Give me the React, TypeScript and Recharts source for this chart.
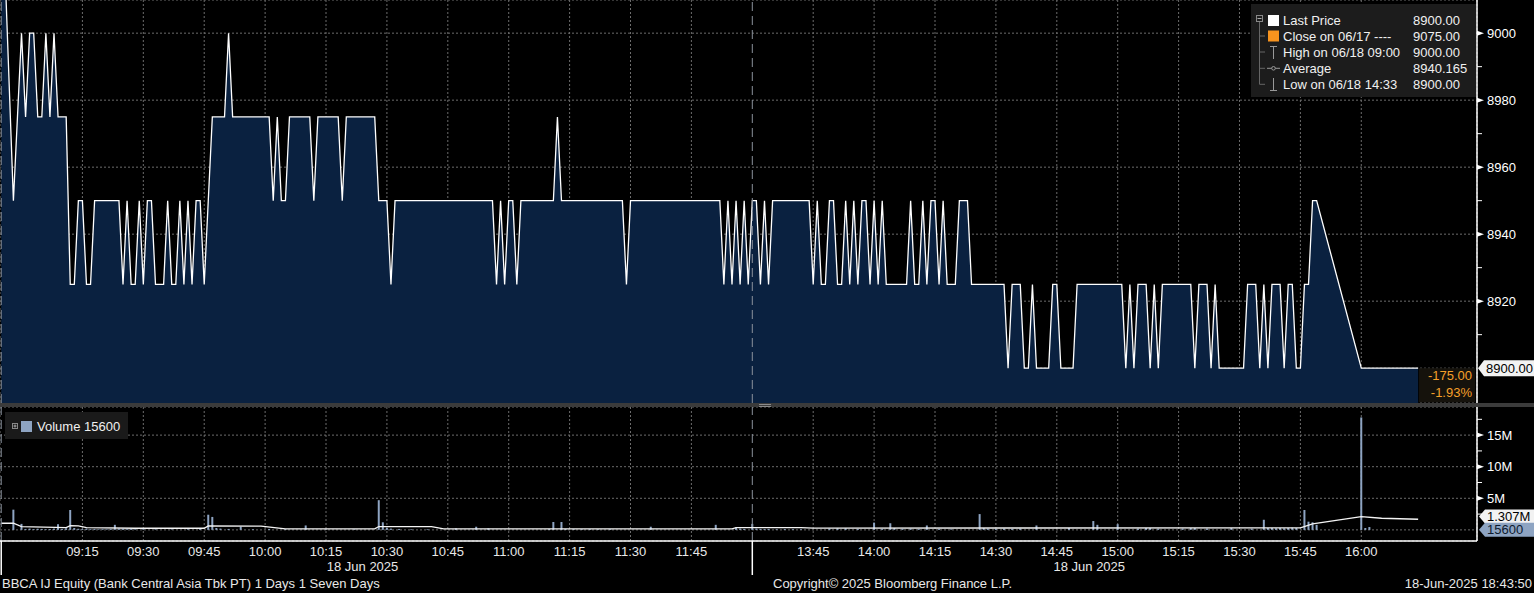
import React from "react";
import {
  ComposedChart,
  Area,
  Bar,
  Line,
  XAxis,
  YAxis,
  CartesianGrid,
  ReferenceLine,
  Legend,
} from "recharts";

// ---------------- data ----------------
// price changes (1-minute closes), [clock time, price]
const morningPrices: [string, number][] = [
  ["08:55", 9050], ["08:58", 8950], ["09:00", 9000], ["09:01", 8975], ["09:02", 9000],
  ["09:03", 9000], ["09:04", 8975], ["09:05", 8975], ["09:06", 9000], ["09:07", 8975],
  ["09:08", 9000], ["09:09", 8975], ["09:11", 8975], ["09:12", 8925], ["09:13", 8925],
  ["09:14", 8950], ["09:15", 8950], ["09:16", 8925], ["09:17", 8925], ["09:18", 8950],
  ["09:24", 8950], ["09:25", 8925], ["09:26", 8950], ["09:27", 8925], ["09:28", 8925],
  ["09:29", 8950], ["09:30", 8925], ["09:31", 8950], ["09:32", 8950], ["09:33", 8925],
  ["09:35", 8925], ["09:36", 8950], ["09:37", 8925], ["09:38", 8925], ["09:39", 8950],
  ["09:40", 8925], ["09:41", 8950], ["09:42", 8925], ["09:43", 8950], ["09:44", 8950],
  ["09:45", 8925], ["09:47", 8975], ["09:50", 8975], ["09:51", 9000], ["09:52", 8975],
  ["10:01", 8975], ["10:02", 8950], ["10:03", 8975], ["10:04", 8950], ["10:05", 8950],
  ["10:06", 8975], ["10:11", 8975], ["10:12", 8950], ["10:13", 8975], ["10:18", 8975],
  ["10:19", 8950], ["10:20", 8975], ["10:27", 8975], ["10:28", 8950], ["10:30", 8950],
  ["10:31", 8925], ["10:32", 8950], ["10:56", 8950], ["10:57", 8925], ["10:58", 8950],
  ["10:59", 8925], ["11:00", 8950], ["11:01", 8950], ["11:02", 8925], ["11:03", 8950],
  ["11:11", 8950], ["11:12", 8975], ["11:13", 8950], ["11:28", 8950], ["11:29", 8925],
  ["11:30", 8950], ["11:52", 8950], ["11:53", 8925], ["11:54", 8950], ["11:55", 8925],
  ["11:56", 8950], ["11:57", 8925], ["11:58", 8950], ["11:59", 8925],
];

const afternoonPrices: [string, number][] = [
  ["13:30", 8950], ["13:31", 8950], ["13:32", 8925], ["13:33", 8950], ["13:34", 8925],
  ["13:35", 8950], ["13:44", 8950], ["13:45", 8925], ["13:46", 8950], ["13:47", 8925],
  ["13:48", 8925], ["13:49", 8950], ["13:50", 8950], ["13:51", 8925], ["13:52", 8925],
  ["13:53", 8950], ["13:54", 8925], ["13:55", 8950], ["13:56", 8925], ["13:57", 8950],
  ["13:58", 8950], ["13:59", 8925], ["14:00", 8950], ["14:01", 8925], ["14:02", 8950],
  ["14:03", 8925], ["14:08", 8925], ["14:09", 8950], ["14:10", 8925], ["14:11", 8925],
  ["14:12", 8950], ["14:13", 8925], ["14:14", 8950], ["14:15", 8950], ["14:16", 8925],
  ["14:17", 8950], ["14:18", 8925], ["14:20", 8925], ["14:21", 8950], ["14:23", 8950],
  ["14:24", 8925], ["14:32", 8925], ["14:33", 8900], ["14:34", 8925], ["14:36", 8925],
  ["14:37", 8900], ["14:38", 8900], ["14:39", 8925], ["14:40", 8900], ["14:43", 8900],
  ["14:44", 8925], ["14:45", 8925], ["14:46", 8900], ["14:49", 8900], ["14:50", 8925],
  ["15:01", 8925], ["15:02", 8900], ["15:03", 8925], ["15:04", 8900], ["15:05", 8925],
  ["15:07", 8925], ["15:08", 8900], ["15:09", 8925], ["15:10", 8900], ["15:11", 8925],
  ["15:18", 8925], ["15:19", 8900], ["15:20", 8925], ["15:22", 8925], ["15:23", 8900],
  ["15:24", 8925], ["15:25", 8900], ["15:31", 8900], ["15:32", 8925], ["15:34", 8925],
  ["15:35", 8900], ["15:36", 8925], ["15:37", 8900], ["15:38", 8925], ["15:40", 8925],
  ["15:41", 8900], ["15:42", 8925], ["15:43", 8925], ["15:44", 8900], ["15:45", 8900],
  ["15:46", 8925], ["15:47", 8925], ["15:48", 8950], ["15:49", 8950], ["16:00", 8900],
  ["16:14", 8900],
];

// volume per minute, [clock time, shares]
const morningVolume: [string, number][] = [
  ["08:58", 3200000], ["09:00", 950000], ["09:01", 150000], ["09:02", 200000], ["09:03", 120000],
  ["09:04", 180000], ["09:05", 150000], ["09:06", 100000], ["09:07", 120000], ["09:08", 200000],
  ["09:09", 900000], ["09:10", 150000], ["09:11", 250000], ["09:12", 3150000], ["09:13", 300000],
  ["09:14", 180000], ["09:15", 150000], ["09:16", 200000], ["09:17", 120000], ["09:18", 150000],
  ["09:19", 100000], ["09:20", 120000], ["09:21", 100000], ["09:22", 150000], ["09:23", 800000],
  ["09:24", 200000], ["09:25", 150000], ["09:26", 100000], ["09:27", 150000], ["09:28", 100000],
  ["09:30", 120000], ["09:33", 100000], ["09:37", 80000], ["09:41", 100000], ["09:44", 150000],
  ["09:46", 2400000], ["09:47", 2050000], ["09:48", 300000], ["09:49", 200000], ["09:51", 150000],
  ["09:54", 500000], ["09:57", 100000], ["10:01", 150000], ["10:05", 100000], ["10:10", 700000],
  ["10:15", 80000], ["10:22", 100000], ["10:28", 4700000], ["10:29", 1200000], ["10:30", 300000],
  ["10:31", 200000], ["10:33", 150000], ["10:36", 100000], ["10:40", 100000], ["10:47", 250000],
  ["10:52", 500000], ["10:55", 250000], ["11:10", 150000], ["11:11", 1250000], ["11:13", 1250000],
  ["11:14", 150000], ["11:16", 120000], ["11:18", 100000], ["11:20", 120000], ["11:22", 100000],
  ["11:25", 120000], ["11:35", 500000], ["11:51", 800000], ["11:56", 400000], ["11:57", 200000],
  ["11:58", 150000],
];

const afternoonVolume: [string, number][] = [
  ["13:30", 950000], ["13:31", 200000], ["13:32", 150000], ["13:33", 120000], ["13:34", 150000],
  ["13:36", 100000], ["13:38", 120000], ["13:40", 100000], ["13:42", 100000], ["13:49", 200000],
  ["13:51", 250000], ["13:53", 250000], ["13:56", 150000], ["14:00", 1150000], ["14:02", 150000],
  ["14:04", 1050000], ["14:05", 300000], ["14:07", 150000], ["14:09", 200000], ["14:11", 150000],
  ["14:13", 700000], ["14:16", 150000], ["14:19", 100000], ["14:26", 2500000], ["14:27", 300000],
  ["14:28", 200000], ["14:30", 150000], ["14:32", 200000], ["14:34", 150000], ["14:36", 200000],
  ["14:40", 700000], ["14:48", 300000], ["14:54", 1400000], ["14:55", 800000], ["15:00", 900000],
  ["15:05", 200000], ["15:07", 300000], ["15:08", 300000], ["15:10", 200000], ["15:16", 200000],
  ["15:18", 300000], ["15:19", 300000], ["15:22", 200000], ["15:28", 300000], ["15:33", 200000],
  ["15:36", 1600000], ["15:37", 300000], ["15:38", 300000], ["15:39", 250000], ["15:40", 300000],
  ["15:41", 250000], ["15:42", 300000], ["15:43", 350000], ["15:44", 300000], ["15:46", 3150000],
  ["15:47", 1300000], ["15:48", 1200000], ["15:49", 800000], ["16:00", 17800000], ["16:01", 300000],
  ["16:02", 450000], ["16:14", 15600],
];

// volume moving average, [clock time, shares]
const volumeAverage: [string, number][] = [
  ["08:55", 1050000], ["08:58", 1050000], ["09:00", 500000], ["09:11", 370000], ["09:12", 680000],
  ["09:14", 630000], ["09:16", 370000], ["09:28", 260000], ["09:45", 260000], ["09:46", 630000],
  ["09:59", 580000], ["10:05", 160000], ["10:27", 160000], ["10:28", 530000], ["10:41", 530000],
  ["10:44", 160000], ["11:55", 160000], ["11:56", 370000], ["13:42", 370000], ["13:45", 280000],
  ["15:45", 320000], ["15:48", 950000], ["16:00", 2100000], ["16:05", 1840000], ["16:14", 1680000],
];

const timeTickLabels = [
  "09:15", "09:30", "09:45", "10:00", "10:15", "10:30", "10:45", "11:00", "11:15", "11:30", "11:45",
  "13:45", "14:00", "14:15", "14:30", "14:45", "15:00", "15:15", "15:30", "15:45", "16:00",
];
const sessionOpenTimes = ["08:55", "13:30"];
const dateLabelTimes = ["10:24", "14:53"];
const dateLabelText = "18 Jun 2025";
const dateShort = "06/18";
const prevCloseDate = "06/17";

const priceGridValues = [8900, 8920, 8940, 8960, 8980, 9000];
const priceTickValues = [8900, 8910, 8920, 8930, 8940, 8950, 8960, 8970, 8980, 8990, 9000];
const volumeGridValues = [0, 5000000, 10000000, 15000000];
const volumeTickValues = [2500000, 5000000, 7500000, 10000000, 12500000, 15000000, 17500000];

const previousClose = 9075;
const averagePrice = 8940.165;
const lastVolumeAverage = 1307000;

const securityText = "BBCA IJ Equity (Bank Central Asia Tbk PT) 1 Days 1 Seven Days";
const copyrightText = "Copyright\u00A9 2025 Bloomberg Finance L.P.";
const stampText = "18-Jun-2025 18:43:50";

// ---------------- helpers ----------------
const toTradingMinute = (hhmm: string) => {
  const [h, m] = hhmm.split(":").map(Number);
  const clock = h * 60 + m;
  return clock <= 12 * 60 ? clock - 9 * 60 : clock - (13 * 60 + 30) + 180;
};

const X_DOMAIN: [number, number] = [-5.3, 358.5];
const PRICE_DOMAIN: [number, number] = [8889.6, 9009.9];
const VOLUME_DOMAIN: [number, number] = [-1760000, 19450000];

const priceData = [...morningPrices, ...afternoonPrices].map(([t, p]) => ({
  t: toTradingMinute(t),
  clock: t,
  price: p,
}));
const volumeData = [...morningVolume, ...afternoonVolume].map(([t, v]) => ({
  t: toTradingMinute(t),
  volume: v,
}));
const avgData = volumeAverage.map(([t, v]) => ({ t: toTradingMinute(t), avg: v }));

const timeTicks = timeTickLabels.map(toTradingMinute);
const sessionTicks = sessionOpenTimes.map(toTradingMinute);
const dateTicks = dateLabelTimes.map(toTradingMinute);
const labelByMinute: Record<number, string> = {};
timeTickLabels.forEach((l) => (labelByMinute[toTradingMinute(l)] = l));

const lastPrice = priceData[priceData.length - 1].price;
const sessionPrices = priceData.filter((d) => d.t >= 0);
const highPoint = sessionPrices.reduce((a, b) => (b.price > a.price ? b : a));
const lowPoint = sessionPrices.reduce((a, b) => (b.price < a.price ? b : a));
const change = lastPrice - previousClose;
const changePct = (change / previousClose) * 100;
const lastVolume = volumeData[volumeData.length - 1].volume;

const FONT = '"Liberation Sans", Arial, Helvetica, sans-serif';
const NAVY = "#0a2140";
const GRID = "#6c6c6c";
const ORANGE = "#f5a02a";
const VOL_BLUE = "#8ea4c2";
const SESSION = "#8a919c";

// ---------------- custom pieces ----------------
const PriceAxisTick = (props: any) => {
  const { x, y, payload } = props;
  const v = payload.value;
  if (v === lastPrice) return <g />;
  if (priceGridValues.includes(v)) {
    return (
      <g>
        <polygon points={`${x},${y - 2.5} ${x + 7},${y} ${x},${y + 2.5}`} fill="#fff" />
        <text x={x + 10} y={y + 4.5} fill="#fff" fontSize={13} fontFamily={FONT}>
          {v}
        </text>
      </g>
    );
  }
  return <line x1={x} x2={x + 5} y1={y} y2={y} stroke="#fff" strokeWidth={1} />;
};

const VolumeAxisTick = (props: any) => {
  const { x, y, payload } = props;
  const v = payload.value;
  if (volumeGridValues.includes(v)) {
    return (
      <g>
        <polygon points={`${x},${y - 2.5} ${x + 7},${y} ${x},${y + 2.5}`} fill="#fff" />
        <text x={x + 10} y={y + 4.5} fill="#fff" fontSize={13} fontFamily={FONT}>
          {v / 1000000}M
        </text>
      </g>
    );
  }
  return <line x1={x} x2={x + 5} y1={y} y2={y} stroke="#fff" strokeWidth={1} />;
};

const TimeTick = (props: any) => {
  const { x, y, payload } = props;
  const v = payload.value;
  if (sessionTicks.includes(v)) {
    return <line x1={x} x2={x} y1={y} y2={y + 34} stroke="#fff" strokeWidth={1.5} />;
  }
  return (
    <text x={x} y={y + 15} textAnchor="middle" fill="#e8e8e8" fontSize={13} fontFamily={FONT}>
      {labelByMinute[v]}
    </text>
  );
};

const DateTick = (props: any) => {
  const { x, y } = props;
  return (
    <text x={x} y={y + 10} textAnchor="middle" fill="#e8e8e8" fontSize={13} fontFamily={FONT}>
      {dateLabelText}
    </text>
  );
};

const LastPriceTag = (props: any) => {
  const vb = props.viewBox || {};
  const right = vb.x + vb.width;
  const y = vb.y;
  return (
    <g>
      <rect x={right - 58} y={y} width={56} height={34} fill="#15120c" />
      <text x={right - 5} y={y + 11.5} textAnchor="end" fill={ORANGE} fontSize={13} fontFamily={FONT}>
        {change.toFixed(2)}
      </text>
      <text x={right - 5} y={y + 29} textAnchor="end" fill={ORANGE} fontSize={13} fontFamily={FONT}>
        {changePct.toFixed(2)}%
      </text>
      <path
        d={`M${right + 1},${y} L${right + 7},${y - 8} L${right + 57},${y - 8} L${right + 57},${y + 8} L${right + 7},${y + 8} Z`}
        fill="#f2f2f2"
      />
      <text x={right + 9} y={y + 4.5} fill="#000" fontSize={13} fontFamily={FONT}>
        {lastPrice.toFixed(2)}
      </text>
    </g>
  );
};

const VolumeTag = (props: any) => {
  const vb = props.viewBox || {};
  const right = vb.x + vb.width;
  const y = vb.y + (props.shift || 0);
  return (
    <g>
      <path
        d={`M${right + 2},${y} L${right + 8},${y - 7} L${right + 57},${y - 7} L${right + 57},${y + 7} L${right + 8},${y + 7} Z`}
        fill={props.bg}
      />
      <text x={right + 10} y={y + 4.5} fill={props.color} fontSize={13} fontFamily={FONT}>
        {props.text}
      </text>
    </g>
  );
};

const PriceLegend = () => {
  const rows = [16.5, 32, 48, 64.3, 80.3];
  const labels = [
    "Last Price",
    `Close on ${prevCloseDate} ----`,
    `High on ${dateShort} ${highPoint.clock}`,
    "Average",
    `Low on ${dateShort} ${lowPoint.clock}`,
  ];
  const values = [
    lastPrice.toFixed(2),
    previousClose.toFixed(2),
    highPoint.price.toFixed(2),
    averagePrice.toFixed(3),
    lowPoint.price.toFixed(2),
  ];
  return (
    <svg width={225} height={93} style={{ display: "block", background: "#1c1c1c" }}>
      <rect x={5.5} y={11.5} width={6} height={6} fill="none" stroke="#888" />
      <line x1={6.5} x2={10.5} y1={14.5} y2={14.5} stroke="#aaa" />
      <line x1={8.5} x2={8.5} y1={18} y2={rows[4]} stroke="#666" />
      {rows.slice(1).map((r, i) => (
        <line key={i} x1={8.5} x2={14} y1={r} y2={r} stroke="#666" />
      ))}
      <rect x={17} y={11} width={11} height={11} fill="#ffffff" />
      <rect x={17} y={26.5} width={11} height={11} fill="#f7931e" />
      <line x1={22.5} x2={22.5} y1={42} y2={55} stroke="#999" />
      <line x1={19} x2={26} y1={42.5} y2={42.5} stroke="#999" />
      <line x1={16} x2={29} y1={64.3} y2={64.3} stroke="#999" />
      <circle cx={22.5} cy={64.3} r={1.8} fill="#1c1c1c" stroke="#999" />
      <line x1={22.5} x2={22.5} y1={74} y2={87} stroke="#999" />
      <line x1={19} x2={26} y1={86.5} y2={86.5} stroke="#999" />
      {labels.map((l, i) => (
        <text key={l} x={32} y={rows[i] + 4.5} fill="#f0f0f0" fontSize={13} fontFamily={FONT}>
          {l}
        </text>
      ))}
      {values.map((v, i) => (
        <text key={i} x={162} y={rows[i] + 4.5} fill="#f0f0f0" fontSize={13} fontFamily={FONT}>
          {v}
        </text>
      ))}
    </svg>
  );
};

const VolumeLegend = () => (
  <svg width={123} height={27} style={{ display: "block", background: "#1a1a1a" }}>
    <rect x={7.5} y={11.5} width={5} height={5} fill="none" stroke="#888" />
    <line x1={8.5} x2={11.5} y1={14} y2={14} stroke="#aaa" />
    <line x1={10} x2={10} y1={12.5} y2={15.5} stroke="#aaa" />
    <rect x={16} y={9} width={11} height={11} fill={VOL_BLUE} />
    <text x={32} y={19} fill="#f0f0f0" fontSize={13} fontFamily={FONT}>
      Volume {lastVolume}
    </text>
  </svg>
);

// ---------------- app ----------------
export default function App() {
  return (
    <div
      style={{
        position: "fixed",
        left: 0,
        top: 0,
        width: 1534,
        height: 593,
        background: "#000",
        overflow: "hidden",
        fontFamily: FONT,
      }}
    >
      <div style={{ position: "absolute", left: 0, top: 0 }}>
        <ComposedChart width={1534} height={403} data={priceData} margin={{ top: 0, right: 0, left: 0, bottom: 0 }}>
          <XAxis dataKey="t" type="number" domain={X_DOMAIN} allowDataOverflow ticks={timeTicks} hide />
          <YAxis yAxisId="grid" type="number" domain={PRICE_DOMAIN} allowDataOverflow ticks={priceGridValues} hide />
          <YAxis
            yAxisId="price"
            orientation="right"
            type="number"
            width={57}
            domain={PRICE_DOMAIN}
            allowDataOverflow
            ticks={priceTickValues}
            interval={0}
            tickLine={false}
            tickSize={0}
            tickMargin={0}
            axisLine={{ stroke: "#fff", strokeWidth: 1.5 }}
            tick={<PriceAxisTick />}
          />
          <Area
            yAxisId="price"
            dataKey="price"
            type="linear"
            stroke="#ffffff"
            strokeWidth={1.3}
            fill={NAVY}
            fillOpacity={1}
            dot={false}
            activeDot={false}
            isAnimationActive={false}
          />
          <CartesianGrid yAxisId="grid" stroke={GRID} strokeDasharray="2 2" />
          {sessionTicks.map((s) => (
            <ReferenceLine key={s} yAxisId="price" x={s} stroke={SESSION} strokeDasharray="9 5" />
          ))}
          <ReferenceLine yAxisId="price" y={lastPrice} stroke="transparent" label={<LastPriceTag />} />
          <Legend
            layout="vertical"
            align="center"
            verticalAlign="middle"
            content={<PriceLegend />}
            wrapperStyle={{ left: 1251, top: 4, width: 225, height: 93, right: "auto", bottom: "auto" }}
          />
        </ComposedChart>
      </div>

      <div style={{ position: "absolute", left: 0, top: 403, width: 1534, height: 4, background: "#3b3b3b" }}>
        <div style={{ position: "absolute", left: 759, top: 1, width: 12, height: 1, background: "#8a8a8a" }} />
        <div style={{ position: "absolute", left: 759, top: 3, width: 12, height: 1, background: "#8a8a8a" }} />
      </div>

      <div style={{ position: "absolute", left: 0, top: 407 }}>
        <ComposedChart width={1534} height={186} data={volumeData} margin={{ top: 0, right: 0, left: 0, bottom: 0 }}>
          <XAxis
            xAxisId="b_date"
            dataKey="t"
            type="number"
            domain={X_DOMAIN}
            allowDataOverflow
            ticks={dateTicks}
            interval={0}
            height={32}
            tickLine={false}
            tickSize={0}
            tickMargin={0}
            axisLine={false}
            tick={<DateTick />}
          />
          <XAxis
            xAxisId="a_time"
            dataKey="t"
            type="number"
            domain={X_DOMAIN}
            allowDataOverflow
            ticks={[...sessionTicks, ...timeTicks]}
            interval={0}
            height={20}
            tickLine={false}
            tickSize={0}
            tickMargin={0}
            axisLine={{ stroke: "#fff", strokeWidth: 1.5 }}
            tick={<TimeTick />}
          />
          <XAxis xAxisId="grid" dataKey="t" type="number" domain={X_DOMAIN} allowDataOverflow ticks={timeTicks} hide />
          <YAxis yAxisId="vgrid" type="number" domain={VOLUME_DOMAIN} allowDataOverflow ticks={volumeGridValues} hide />
          <YAxis
            yAxisId="vol"
            orientation="right"
            type="number"
            width={57}
            domain={VOLUME_DOMAIN}
            allowDataOverflow
            ticks={volumeTickValues}
            interval={0}
            tickLine={false}
            tickSize={0}
            tickMargin={0}
            axisLine={{ stroke: "#fff", strokeWidth: 1.5 }}
            tick={<VolumeAxisTick />}
          />
          <CartesianGrid xAxisId="grid" yAxisId="vgrid" stroke={GRID} strokeDasharray="2 2" />
          <Bar xAxisId="a_time" yAxisId="vol" dataKey="volume" fill={VOL_BLUE} barSize={2} isAnimationActive={false} />
          <Line
            xAxisId="a_time"
            yAxisId="vol"
            data={avgData}
            dataKey="avg"
            type="linear"
            stroke="#f4f4f4"
            strokeWidth={1.3}
            dot={false}
            activeDot={false}
            isAnimationActive={false}
          />
          {sessionTicks.map((s) => (
            <ReferenceLine key={s} xAxisId="a_time" yAxisId="vol" x={s} stroke={SESSION} strokeDasharray="9 5" />
          ))}
          <ReferenceLine
            xAxisId="a_time"
            yAxisId="vol"
            y={lastVolumeAverage}
            stroke="transparent"
            label={<VolumeTag text={`${(lastVolumeAverage / 1000000).toFixed(3)}M`} bg="#f2f2f2" color="#000" shift={-5} />}
          />
          <ReferenceLine
            xAxisId="a_time"
            yAxisId="vol"
            y={lastVolume}
            stroke="transparent"
            label={<VolumeTag text={String(lastVolume)} bg={VOL_BLUE} color="#0d1a2e" shift={0} />}
          />
          <Legend
            layout="vertical"
            align="center"
            verticalAlign="middle"
            content={<VolumeLegend />}
            wrapperStyle={{ left: 5, top: 5, width: 123, height: 27, right: "auto", bottom: "auto" }}
          />
        </ComposedChart>
      </div>

      <div style={{ position: "absolute", left: 2, top: 576, fontSize: 13, lineHeight: "16px", color: "#e8e8e8", whiteSpace: "nowrap" }}>
        {securityText}
      </div>
      <div style={{ position: "absolute", left: 773, top: 576, fontSize: 13, lineHeight: "16px", color: "#e8e8e8", whiteSpace: "nowrap" }}>
        {copyrightText}
      </div>
      <div style={{ position: "absolute", right: 2, top: 576, fontSize: 13, lineHeight: "16px", color: "#e8e8e8", whiteSpace: "nowrap" }}>
        {stampText}
      </div>
    </div>
  );
}
